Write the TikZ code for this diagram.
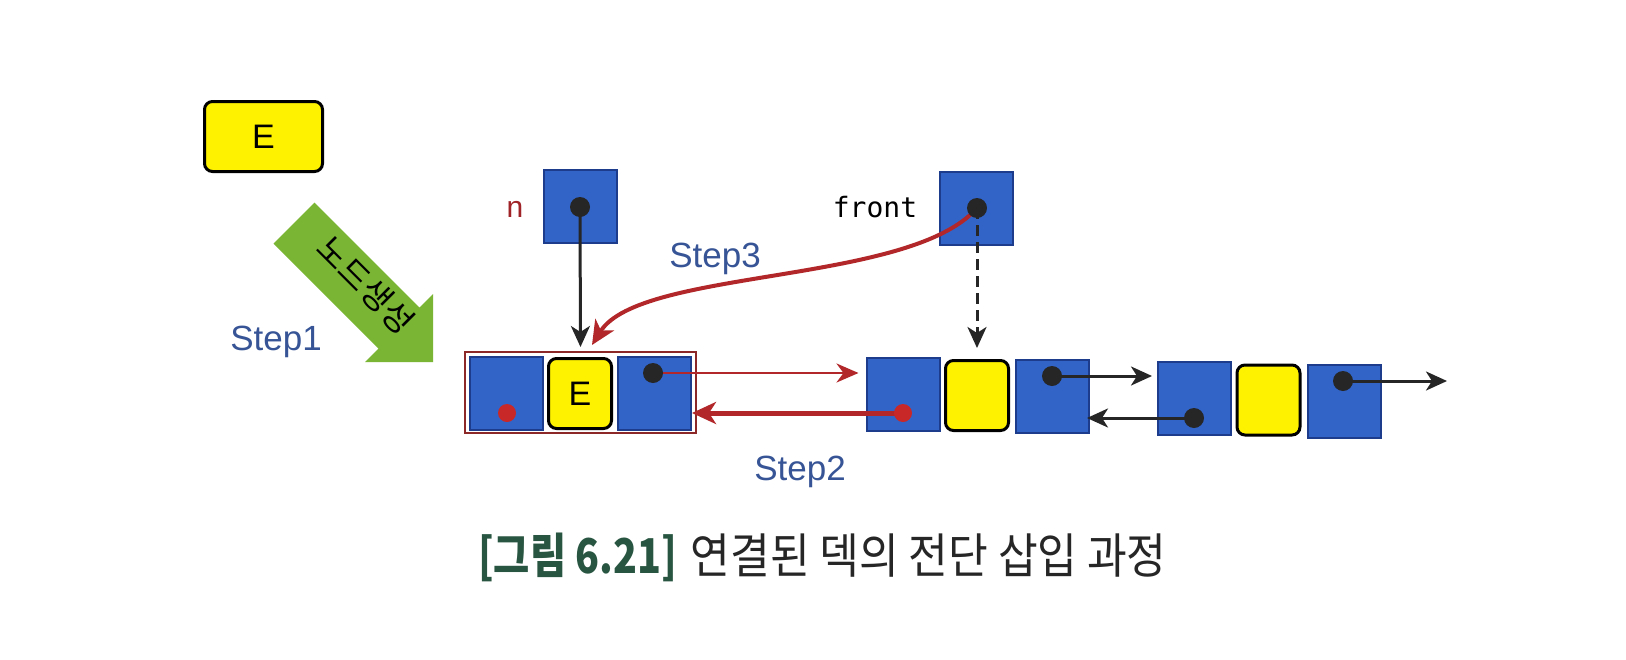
\documentclass[tikz,border=0pt]{standalone}
\usepackage{fontspec}
\setmainfont{Liberation Sans}
\newfontfamily\krfont[FakeStretch=0.82]{Noto Sans CJK KR}
\newfontfamily\krwide[FakeStretch=0.9]{Noto Sans CJK KR}
\newfontfamily\krplain{Noto Sans CJK KR}
\newfontfamily\codefont{DejaVu Sans Mono}
\usetikzlibrary{arrows.meta}
\definecolor{cellblue}{RGB}{50,100,200}
\definecolor{celledge}{RGB}{30,60,140}
\definecolor{datayellow}{RGB}{255,242,0}
\definecolor{arrred}{RGB}{178,40,42}
\definecolor{dotred}{RGB}{200,40,40}
\definecolor{stepblue}{RGB}{55,85,150}
\definecolor{nred}{RGB}{160,35,40}
\definecolor{capgreen}{RGB}{40,85,65}
\definecolor{arrowgreen}{RGB}{122,182,52}
\definecolor{framered}{RGB}{140,40,40}
\pgfdeclarelayer{fg}
\pgfsetlayers{main,fg}
\begin{document}
\begin{tikzpicture}[x=1pt,y=-1pt,
  cell/.style={draw=celledge, fill=cellblue, line width=2pt, minimum width=73pt, minimum height=73pt, inner sep=0pt},
  datacell/.style={draw=black, fill=datayellow, line width=3pt, rounded corners=8pt, minimum width=63pt, minimum height=70pt, inner sep=0pt, font=\fontsize{34}{40}\selectfont},
  groupframe/.style={draw=framered, line width=2pt, minimum width=231pt, minimum height=81pt, inner sep=0pt},
  ptrdot/.style={circle, fill=black!85, inner sep=0pt, minimum size=20pt},
  reddot/.style={circle, fill=dotred, inner sep=0pt, minimum size=18pt},
  steplabel/.style={anchor=base, text=stepblue, font=\fontsize{35}{40}\selectfont, inner sep=0pt},
  blk/.style={line width=3pt, draw=black!85, -{Stealth[length=21pt,width=19pt,inset=6pt]}},
  redthin/.style={line width=2.5pt, draw=arrred, -{Stealth[length=22pt,width=19pt,inset=7pt]}},
  redthick/.style={line width=5pt, draw=arrred, -{Stealth[length=24pt,width=22pt,inset=7pt]}},
  redcurve/.style={line width=4pt, draw=arrred, -{Stealth[length=24pt,width=22pt,inset=7pt]}}
]
\fill[white] (0,0) rectangle (1626,659);
\useasboundingbox (0,0) rectangle (1626,659);

% new node (top)
\node[datacell, minimum width=118pt, minimum height=70pt] (enew) at (263.5,136.5) {E};

% green arrow "node creation"
\fill[arrowgreen] (314.5,202.5) -- (419.5,307.5) -- (433,294) -- (433,362) -- (365,362) -- (378.5,348.5) -- (273.5,243.5) -- cycle;
\node[rotate=-45, font=\krplain\fontsize{33}{36}\selectfont, inner sep=0pt] (mk) at (366,285) {노드생성};
\node[steplabel] (s1) at (276,350) {Step1};

% pointer boxes
\node[cell] (nbox) at (580,206.5) {};
\node[cell] (fbox) at (976.5,208) {};
\node[anchor=base, text=nred, font=\fontsize{30}{34}\selectfont, inner sep=0pt] (nlab) at (515,217) {n};
\node[anchor=base, font=\codefont\fontsize{28}{32}\selectfont, inner sep=0pt] (flab) at (875,217) {front};

% left (new) node
\node[groupframe] (lframe) at (580.5,392.5) {};
\node[cell] (l1) at (506,393.5) {};
\node[datacell] (l2) at (580,393.5) {E};
\node[cell] (l3) at (654.5,393) {};

% first node of deque
\node[cell] (g1l) at (903,394) {};
\node[datacell] (g1y) at (977,395.5) {};
\node[cell] (g1r) at (1052.5,396) {};

% second node
\node[cell] (g2l) at (1194.5,398) {};
\node[datacell] (g2y) at (1268.5,400) {};
\node[cell] (g2r) at (1344.5,401) {};

\begin{pgfonlayer}{fg}
\node[ptrdot] (ndot) at (580,207) {};
\node[ptrdot] (fdot) at (977,208) {};
\node[reddot] (lrdot) at (507,413) {};
\node[ptrdot] (lbdot) at (653,373) {};
\node[reddot] (g1rdot) at (903,413) {};
\node[ptrdot] (g1bdot) at (1052,376) {};
\node[ptrdot] (g2ldot) at (1194,418) {};
\node[ptrdot] (g2rdot) at (1343,381) {};
\end{pgfonlayer}

\coordinate (s3end) at (592,345);
\coordinate (tailend) at (1447,381);

% connectors
\draw[blk, shorten >=4pt] (ndot.center) -- (lframe.north);
\draw[blk, dash pattern=on 11pt off 6pt, shorten >=11pt] (fdot.center) -- (g1y.north);
\draw[redcurve] (fdot.center) .. controls (910,285) and (640,268) .. (s3end);
\draw[redthin, shorten >=7pt] (lbdot.center) -- (lbdot.center -| g1l.west);
\draw[redthick, shorten >=-5pt] (g1rdot.center) -- (g1rdot.center -| lframe.east);
\draw[blk, shorten >=5pt] (g1bdot.center) -- (g1bdot.center -| g2l.west);
\draw[blk, shorten >=-3pt] (g2ldot.center) -- (g2ldot.center -| g1r.east);
\draw[blk] (g2rdot.center) -- (tailend);

\node[steplabel] (s3) at (715,267) {Step3};
\node[steplabel] (s2) at (800,480) {Step2};

% caption
\node[anchor=base west, inner sep=0pt] (caption) at (478,573) {\fontsize{48}{56}\selectfont{\krfont\color{capgreen}\bfseries [그림 6.21]}\hspace{14pt}{\krwide\color{black!85}연결된 덱의 전단 삽입 과정}};
\end{tikzpicture}
\end{document}
